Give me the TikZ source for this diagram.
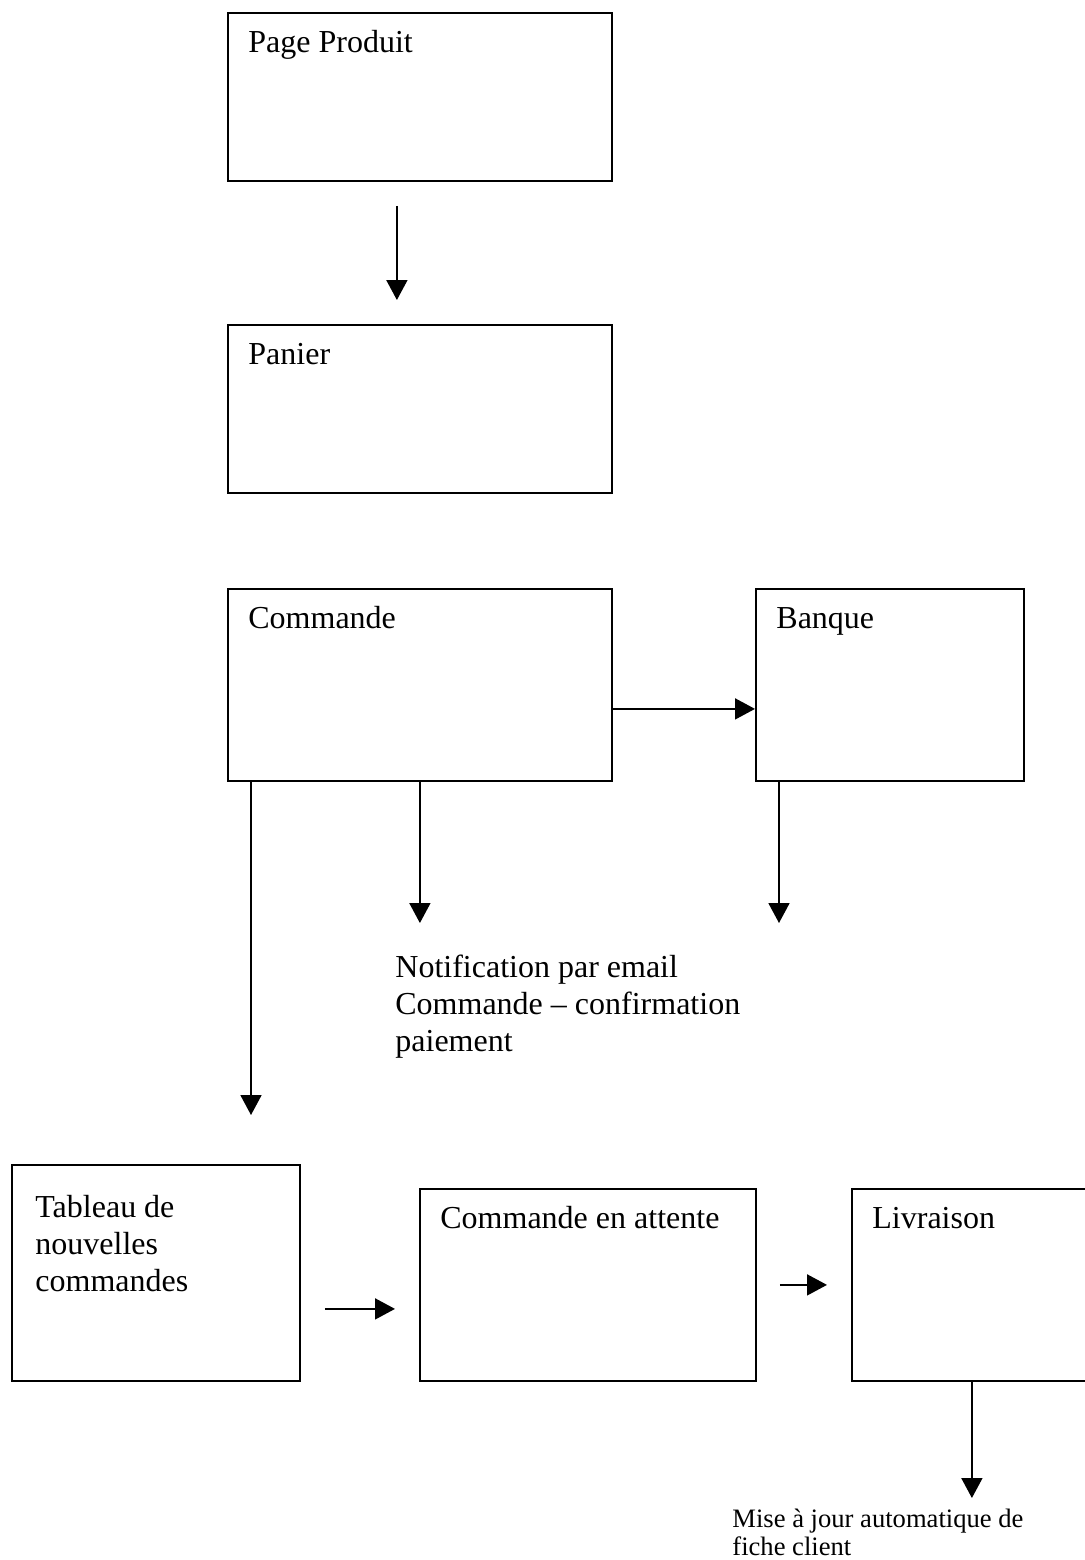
\documentclass[tikz,border=0pt]{standalone}
\usepackage{fontspec}
\setmainfont{Liberation Serif}
\usepackage{tikz}
\usetikzlibrary{arrows.meta,positioning,calc}
\newcommand{\boxfont}{\fontsize{16pt}{18.4pt}\selectfont}
\newcommand{\notefont}{\fontsize{13.3pt}{14pt}\selectfont}
\tikzstyle{screen}=[draw,line width=0.9pt,anchor=north west,inner sep=0pt]
\tikzstyle{title}=[anchor=base west,inner sep=0pt,xshift=10.5pt,yshift=-20pt,font=\boxfont]
\tikzstyle{note}=[anchor=north west,align=left,inner sep=0pt]
\tikzstyle{flow}=[->,line width=0.9pt,>={Triangle[length=10pt,width=10.5pt]}]

\begin{document}
\begin{tikzpicture}[x=0.5pt,y=-0.5pt]
                  \useasboundingbox (0,0) rectangle (1085,1560);

                  \node (produit)[screen,minimum width=192pt,minimum height=84pt,label={[title]north west:Page Produit}] at (227,12) {};
                  \node (panier)[screen,minimum width=192pt,minimum height=84pt,label={[title]north west:Panier}] at (227,324) {};
                  \node (commande)[screen,minimum width=192pt,minimum height=96pt,label={[title]north west:Commande}] at (227,588) {};
                  \node (banque)[screen,minimum width=134pt,minimum height=96pt,label={[title]north west:Banque}] at (755,588) {};
                  \node (tableau)[screen,minimum width=144pt,minimum height=108pt,label={[title,anchor=north west,align=left,xshift=1.5pt,yshift=4.5pt]north west:Tableau de\\nouvelles\\commandes}] at (11,1164) {};
                  \node (attente)[screen,minimum width=168pt,minimum height=96pt,label={[title]north west:Commande en attente}] at (419,1188) {};
                  \node (livraison)[screen,minimum width=120pt,minimum height=96pt,label={[title]north west:Livraison}] at (851,1188) {};

                  \node (notif)[note,font=\boxfont] at (395,955) {Notification par email\\Commande – confirmation\\paiement};
                  \node (maj)[note,font=\notefont] at (732,1509) {Mise à jour automatique de\\fiche client};

                  \draw[flow,shorten <=12pt,shorten >=12pt] ([xshift=-11.5pt]produit.south) -- ([xshift=-11.5pt]panier.north);
                  \draw[flow] ([yshift=-12pt]commande.east) -- ([yshift=-12pt]commande.east -| banque.west);
                  \draw[flow,shorten >=24.5pt] ([xshift=12pt]commande.south west) -- ([xshift=12pt]commande.south west |- tableau.north);
                  \draw[flow,shorten >=16pt] (commande.south) -- (commande.south |- notif.north);
                  \draw[flow,shorten >=16pt] ([xshift=12pt]banque.south west) -- ([xshift=12pt]banque.south west |- notif.north);
                  \draw[flow,shorten <=12pt,shorten >=12pt] ([yshift=-18pt]tableau.east) -- ([yshift=-12pt]attente.west);
                  \draw[flow,shorten <=11.5pt,shorten >=12pt] (attente.east) -- (livraison.west);
                  \draw[flow,shorten >=5.5pt] (livraison.south) -- (livraison.south |- maj.north);
            \end{tikzpicture}
\end{document}
